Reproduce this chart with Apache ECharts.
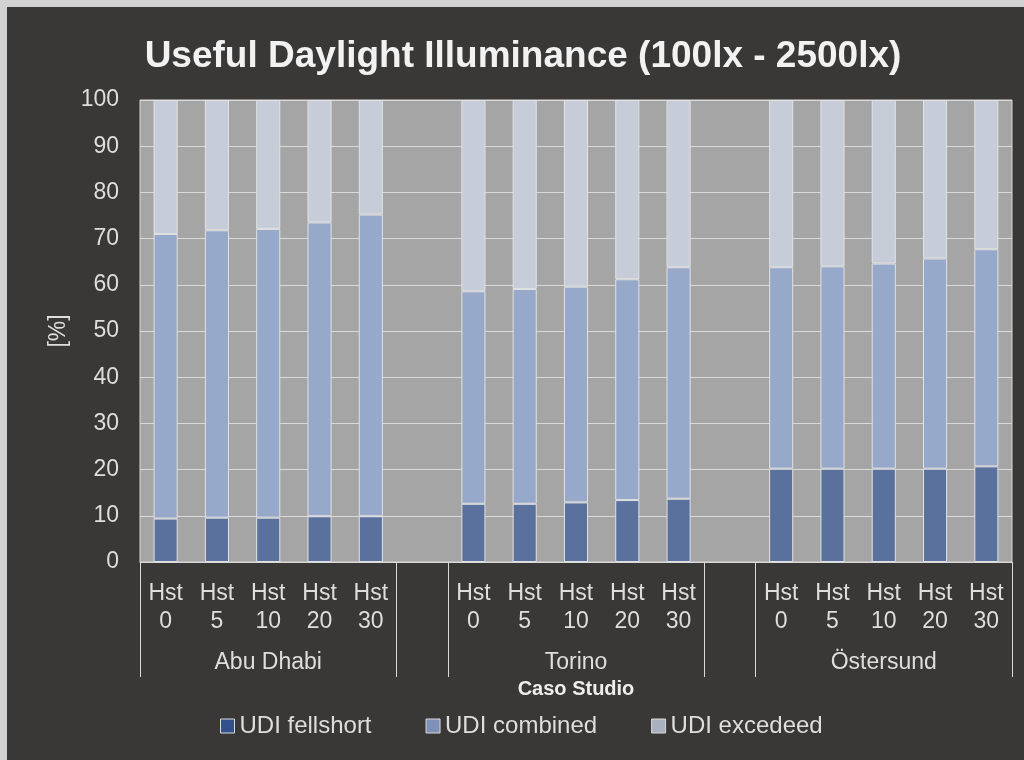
<!DOCTYPE html>
<html>
<head>
<meta charset="utf-8">
<script src="https://cdn.jsdelivr.net/npm/echarts@6/dist/echarts.min.js"></script>
<style>
  html, body { margin: 0; padding: 0; background: #d2d2d2; }
  #chart { position: absolute; left: 7px; top: 7px; width: 1017px; height: 753px; background: #3a3836; }
</style>
</head>
<body>
<div id="chart"></div>
<script>
const cities = ['Abu Dhabi', 'Torino', 'Östersund']
const heights = ['0', '5', '10', '20', '30']
const yTicks = [0, 10, 20, 30, 40, 50, 60, 70, 80, 90, 100]

// values per bar, city by city (Hst 0, 5, 10, 20, 30)
const udiFellshort = [9.4, 9.6, 9.6, 9.9, 9.9, 12.6, 12.6, 12.9, 13.4, 13.7, 20.2, 20.2, 20.2, 20.2, 20.7]
const udiCombined = [61.6, 62.2, 62.5, 63.6, 65.3, 46.0, 46.5, 46.7, 47.8, 50.1, 43.6, 43.8, 44.4, 45.5, 47.0]
const udiExceeded = [29.0, 28.2, 27.9, 26.5, 24.8, 41.4, 40.9, 40.4, 38.8, 36.2, 36.2, 36.0, 35.4, 34.3, 32.3]

const textColor = '#dedede'
const lineColor = '#d9d9d9'
const font = 'Liberation Sans, Arial, sans-serif'

// Excel-style layout: an empty slot between the city groups
const categories = []
const groupLabels = []
const slotIndex = []
cities.forEach((city, c) => {
  if (c > 0) {
    categories.push('')
    groupLabels.push('')
  }
  heights.forEach((h, i) => {
    slotIndex.push(categories.length)
    categories.push('Hst\n' + h)
    groupLabels.push(i === 2 ? city : '')
  })
})

const toSlots = (values) => {
  const out = categories.map(() => '-')
  values.forEach((v, i) => { out[slotIndex[i]] = v })
  return out
}

// tick positions at group edges: 0, 5, 6, 11, 12 (+ end added by echarts)
const separatorTicks = [0, 5, 6, 11, 12]

const chart = echarts.init(document.getElementById('chart'))

const barSeries = (name, values, color) => ({
  name,
  type: 'bar',
  stack: 'udi',
  data: toSlots(values),
  barCategoryGap: '53%',
  itemStyle: { color, borderColor: '#e2e2e2', borderWidth: 1 },
})

chart.setOption({
  animation: false,
  textStyle: { fontFamily: font },
  title: {
    text: 'Useful Daylight Illuminance (100lx - 2500lx)',
    left: 511,
    textAlign: 'center',
    top: 26,
    textStyle: { color: '#f2f2f2', fontSize: 37, fontWeight: 'bold', fontFamily: font },
  },
  legend: {
    left: 208,
    top: 702,
    itemWidth: 14,
    itemHeight: 14,
    itemGap: 54,
    icon: 'rect',
    textStyle: { color: textColor, fontSize: 24, fontFamily: font },
    itemStyle: { borderColor: '#d9d9d9', borderWidth: 1 },
    data: [
      { name: 'UDI fellshort', itemStyle: { color: '#33508a' } },
      { name: 'UDI combined', itemStyle: { color: '#7c90b8' } },
      { name: 'UDI excedeed', itemStyle: { color: '#a9b0be' } },
    ],
  },
  grid: {
    left: 133,
    right: 12,
    top: 93,
    bottom: 198,
    show: true,
    backgroundColor: '#a5a5a5',
    borderColor: lineColor,
    borderWidth: 1,
  },
  xAxis: [
    {
      type: 'category',
      data: categories,
      position: 'bottom',
      axisLine: { show: true, lineStyle: { color: lineColor, width: 1 } },
      axisTick: { show: false },
      axisLabel: {
        interval: 0,
        color: textColor,
        fontSize: 23,
        lineHeight: 28,
        margin: 18,
      },
    },
    {
      type: 'category',
      data: groupLabels,
      position: 'bottom',
      offset: 0,
      name: 'Caso Studio',
      nameLocation: 'middle',
      nameGap: 117,
      nameTextStyle: { color: '#eeeeee', fontSize: 20, fontWeight: 'bold', fontFamily: font },
      axisLine: { show: false },
      axisTick: {
        show: true,
        length: 115,
        interval: (index) => separatorTicks.includes(index),
        lineStyle: { color: lineColor, width: 1 },
      },
      axisLabel: { interval: 0, color: textColor, fontSize: 23, margin: 89 },
    },
  ],
  yAxis: {
    type: 'value',
    min: yTicks[0],
    max: yTicks[yTicks.length - 1],
    interval: yTicks[1] - yTicks[0],
    name: '[%]',
    nameLocation: 'middle',
    nameGap: 70,
    nameTextStyle: { color: textColor, fontSize: 23, fontFamily: font },
    axisLine: { show: false },
    axisTick: { show: false },
    axisLabel: { color: textColor, fontSize: 23, margin: 21 },
    splitLine: { lineStyle: { color: lineColor, width: 1 } },
  },
  series: [
    barSeries('UDI fellshort', udiFellshort, '#5a719d'),
    barSeries('UDI combined', udiCombined, '#97a9ca'),
    barSeries('UDI excedeed', udiExceeded, '#c6cdd9'),
  ],
})
</script>
</body>
</html>
